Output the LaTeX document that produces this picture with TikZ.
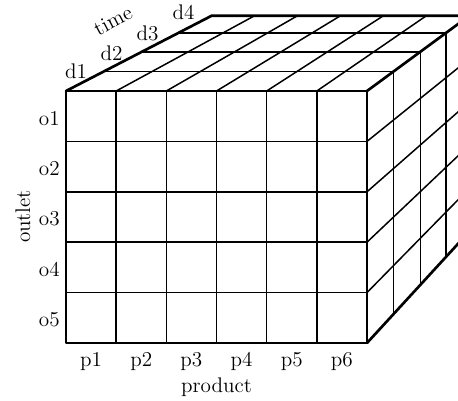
\documentclass[tikz,border=0pt]{standalone}
\usetikzlibrary{calc}
\begin{document}
\begin{tikzpicture}[x=0.6pt,y=-0.6pt,
  gridline/.style={line width=0.9pt},
  edgeline/.style={line width=1.6pt, line join=round, line cap=round},
  lab/.style={font=\fontsize{12.7}{15}\selectfont, inner sep=0pt}]
\useasboundingbox (0,0) rectangle (458,400);
\clip (0,0) rectangle (458,400);
\pgfmathsetmacro\cw{(367-66)/6}
\pgfmathsetmacro\rh{(343-91)/5}
\coordinate (V) at (1078,-432);
% front top points and back top points
\foreach \j in {0,...,6} {
  \coordinate (F\j) at ({66+\j*\cw},91);
  \coordinate (B\j) at ($(V)!0.856!(F\j)$);
}
% right front edge points and their back points
\foreach \i in {0,...,5} {
  \coordinate (Q\i) at (367,{91+\i*\rh});
  \coordinate (QB\i) at ($(V)!0.856!(Q\i)$);
}
% front grid
\foreach \j in {1,...,5} \draw[gridline] (F\j) -- ({66+\j*\cw},343);
\foreach \i in {1,...,4} \draw[gridline] (66,{91+\i*\rh}) -- (Q\i);
% top face
\foreach \j in {1,...,5} \draw[gridline] (F\j) -- (B\j);
\foreach \s in {0.963,0.925,0.889}
  \draw[gridline] ($(V)!\s!(F0)$) -- ($(V)!\s!(F6)$);
% right face
\foreach \i in {1,...,4} \draw[gridline] (Q\i) -- (QB\i);
\foreach \s in {0.963,0.925,0.889}
  \draw[gridline] ($(V)!\s!(Q0)$) -- ($(V)!\s!(Q5)$);
% outer edges
\draw[edgeline] (F0) rectangle (Q5);
\draw[edgeline] (F0) -- (B0) -- (B6) -- (F6);
\draw[edgeline] (Q5) -- (QB5) -- (QB0);
% labels
\foreach \j in {1,...,6}
  \node[lab, anchor=base] (p\j) at ({66+(\j-0.5)*\cw},366.7) {p\j};
\node[lab, anchor=base] (product) at (216.5,392.7) {product};
\foreach \i in {1,...,5}
  \node[lab, anchor=base east] (o\i) at (60,{91+(\i-0.5)*\rh+8.8}) {o\i};
\node[lab, rotate=90] (outlet) at (23,216.5) {outlet};
\node[lab] (d1) at (76,71) {d1};
\node[lab] (d2) at (111.5,53.5) {d2};
\node[lab] (d3) at (147.5,33.5) {d3};
\node[lab] (d4) at (183.5,12.5) {d4};
\node[lab, rotate=28] (time) at (113,21) {time};
\end{tikzpicture}
\end{document}
